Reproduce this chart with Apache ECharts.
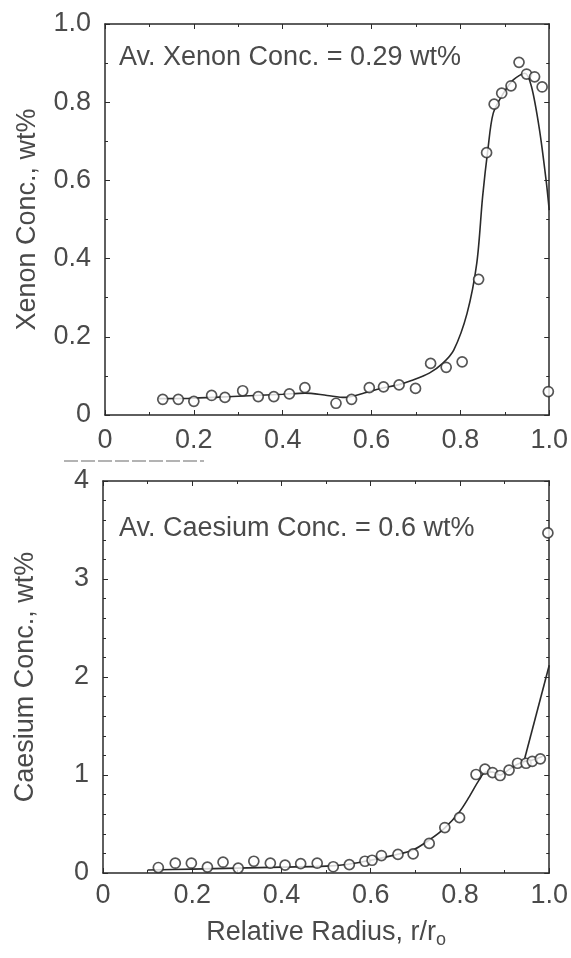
<!DOCTYPE html>
<html>
<head>
<meta charset="utf-8">
<script src="https://cdn.jsdelivr.net/npm/echarts@6/dist/echarts.min.js"></script>
<style>
html,body{margin:0;padding:0;background:#fff;}
#chart{width:571px;height:958px;}
</style>
</head>
<body>
<div id="chart"></div>
<script>
// ---- data ----
const xTickLabels = ['0', '0.2', '0.4', '0.6', '0.8', '1.0'];
const xenonTickLabels = ['0', '0.2', '0.4', '0.6', '0.8', '1.0'];
const caesiumTickLabels = ['0', '1', '2', '3', '4'];

const xenonMarkX = [0.13,0.165,0.20,0.24,0.27,0.31,0.345,0.38,0.415,0.45,0.52,0.555,0.595,0.627,0.662,0.699,0.733,0.768,0.804,0.841,0.859,0.876,0.893,0.914,0.932,0.949,0.967,0.984,0.998];
const xenonMarkY = [0.04,0.04,0.035,0.05,0.045,0.062,0.047,0.047,0.054,0.07,0.03,0.04,0.07,0.072,0.077,0.068,0.132,0.122,0.136,0.347,0.671,0.795,0.823,0.842,0.902,0.872,0.865,0.839,0.06];

const xenonFitX = [0.12,0.2,0.3,0.4,0.45,0.5,0.54,0.58,0.62,0.66,0.69,0.73,0.76,0.785,0.815,0.837,0.85,0.862,0.874,0.897,0.919,0.945,0.96,0.978,0.993,1.0];
const xenonFitY = [0.042,0.043,0.048,0.053,0.056,0.05,0.045,0.055,0.068,0.077,0.088,0.107,0.132,0.166,0.26,0.389,0.558,0.68,0.772,0.823,0.857,0.874,0.84,0.73,0.6,0.524];

const caesiumMarkX = [0.124,0.162,0.198,0.234,0.269,0.303,0.338,0.375,0.408,0.443,0.48,0.516,0.552,0.587,0.603,0.624,0.661,0.695,0.731,0.766,0.799,0.836,0.856,0.873,0.89,0.91,0.929,0.948,0.962,0.98,0.997];
const caesiumMarkY = [0.056,0.10,0.10,0.06,0.11,0.05,0.12,0.10,0.08,0.095,0.10,0.064,0.085,0.12,0.13,0.178,0.19,0.195,0.302,0.464,0.565,1.005,1.06,1.025,0.995,1.05,1.12,1.12,1.14,1.165,3.47];

const caesiumFitX = [0.1,0.2,0.3,0.4,0.5,0.55,0.6,0.65,0.695,0.732,0.765,0.799,0.821,0.843,0.858,0.873,0.89,0.911,0.929,0.946,0.961,0.985];
const caesiumFitY = [0.03,0.04,0.05,0.06,0.07,0.09,0.13,0.18,0.235,0.34,0.456,0.626,0.78,0.95,1.03,1.03,1.0,1.06,1.11,1.14,1.15,1.19];

const caesiumSteepX = [0.944, 1.0];
const caesiumSteepY = [1.15, 2.12];

const xenonNote = 'Av. Xenon Conc. = 0.29 wt%';
const caesiumNote = 'Av. Caesium Conc. = 0.6 wt%';

// ---- helpers ----
const zip = (xs, ys) => xs.map((x, i) => [x, ys[i]]);
const FONT = "'Liberation Sans', Arial, sans-serif";
const TXT = '#4a4a4a';
const LINE = '#2a2a2a';
const FS = 27;

function xAxisMain(gridIndex, name, margin) {
  return {
    gridIndex, type: 'value', min: 0, max: 1, interval: 0.2, position: 'bottom',
    axisLine: {show: true, onZero: false, lineStyle: {color: LINE, width: 1.5}},
    axisTick: {show: true, inside: true, length: 5, lineStyle: {color: LINE}},
    minorTick: {show: true, splitNumber: 2, length: 3, lineStyle: {color: LINE}},
    splitLine: {show: false},
    axisLabel: {color: TXT, fontFamily: FONT, fontSize: FS, margin: margin,
      formatter: v => xTickLabels[Math.round(v / 0.2)]},
    name: name || '', nameLocation: 'middle', nameGap: 44,
    nameTextStyle: name ? {color: TXT, fontFamily: FONT, fontSize: FS,
      rich: {sub: {fontFamily: FONT, fontSize: 18, color: TXT, verticalAlign: 'bottom', padding: [14, 0, 0, 0]}}} : {}
  };
}
function xAxisTop(gridIndex) {
  return {
    gridIndex, type: 'value', min: 0, max: 1, interval: 0.2, position: 'top',
    axisLine: {show: true, onZero: false, lineStyle: {color: LINE, width: 1.5}},
    axisTick: {show: true, inside: true, length: 5, lineStyle: {color: LINE}},
    minorTick: {show: true, splitNumber: 2, length: 3, lineStyle: {color: LINE}},
    splitLine: {show: false}, axisLabel: {show: false}
  };
}
function yAxisMain(gridIndex, max, interval, minorSplit, labels, name) {
  return {
    gridIndex, type: 'value', min: 0, max, interval, position: 'left',
    axisLine: {show: true, onZero: false, lineStyle: {color: LINE, width: 1.5}},
    axisTick: {show: true, inside: true, length: 5, lineStyle: {color: LINE}},
    minorTick: {show: true, splitNumber: minorSplit, length: 3, lineStyle: {color: LINE}},
    splitLine: {show: false},
    axisLabel: {color: TXT, fontFamily: FONT, fontSize: FS, margin: 14,
      formatter: v => labels[Math.round(v / interval)]},
    name, nameLocation: 'middle', nameRotate: 90, nameGap: 64,
    nameTextStyle: {color: TXT, fontFamily: FONT, fontSize: FS}
  };
}
function yAxisRight(gridIndex, max, interval, minorSplit) {
  return {
    gridIndex, type: 'value', min: 0, max, interval, position: 'right',
    axisLine: {show: true, onZero: false, lineStyle: {color: LINE, width: 1.5}},
    axisTick: {show: true, inside: true, length: 5, lineStyle: {color: LINE}},
    minorTick: {show: true, splitNumber: minorSplit, length: 3, lineStyle: {color: LINE}},
    splitLine: {show: false}, axisLabel: {show: false}
  };
}

const markerStyle = {color: '#fff', borderColor: LINE, borderWidth: 1.7};

const chart = echarts.init(document.getElementById('chart'), null, {renderer: 'canvas'});
chart.setOption({
  backgroundColor: '#fff',
  animation: false,
  grid: [
    {left: 105, top: 24, width: 448, height: 391},
    {left: 103, top: 481, width: 447, height: 392}
  ],
  xAxis: [
    xAxisMain(0, '', 12), xAxisTop(0),
    xAxisMain(1, 'Relative Radius, r/r{sub|o}', 9), xAxisTop(1)
  ],
  yAxis: [
    yAxisMain(0, 1, 0.2, 2, xenonTickLabels, 'Xenon Conc., wt%'), yAxisRight(0, 1, 0.2, 2),
    yAxisMain(1, 4, 1, 5, caesiumTickLabels, 'Caesium Conc., wt%'), yAxisRight(1, 4, 1, 5)
  ],
  series: [
    {type: 'line', xAxisIndex: 0, yAxisIndex: 0, data: zip(xenonFitX, xenonFitY), smooth: 0.3,
      showSymbol: false, lineStyle: {color: LINE, width: 1.6}, z: 2},
    {type: 'scatter', xAxisIndex: 0, yAxisIndex: 0, data: zip(xenonMarkX, xenonMarkY),
      symbol: 'circle', symbolSize: 10, itemStyle: markerStyle, z: 3},
    {type: 'line', xAxisIndex: 2, yAxisIndex: 2, data: zip(caesiumFitX, caesiumFitY), smooth: 0.3,
      showSymbol: false, lineStyle: {color: LINE, width: 1.6}, z: 2},
    {type: 'line', xAxisIndex: 2, yAxisIndex: 2, data: zip(caesiumSteepX, caesiumSteepY),
      showSymbol: false, lineStyle: {color: LINE, width: 1.6}, z: 2},
    {type: 'scatter', xAxisIndex: 2, yAxisIndex: 2, data: zip(caesiumMarkX, caesiumMarkY),
      symbol: 'circle', symbolSize: 10, itemStyle: markerStyle, z: 3}
  ],
  graphic: [
    {type: 'text', left: 119, top: 44, style: {text: xenonNote, fill: TXT, font: '27px ' + FONT}},
    {type: 'text', left: 119, top: 515, style: {text: caesiumNote, fill: TXT, font: '27px ' + FONT}},
    {type: 'line', shape: {x1: 64, y1: 461, x2: 204, y2: 461},
      style: {stroke: '#9a9a9a', lineWidth: 1.5, lineDash: [14, 3]}}
  ]
});
</script>
</body>
</html>
